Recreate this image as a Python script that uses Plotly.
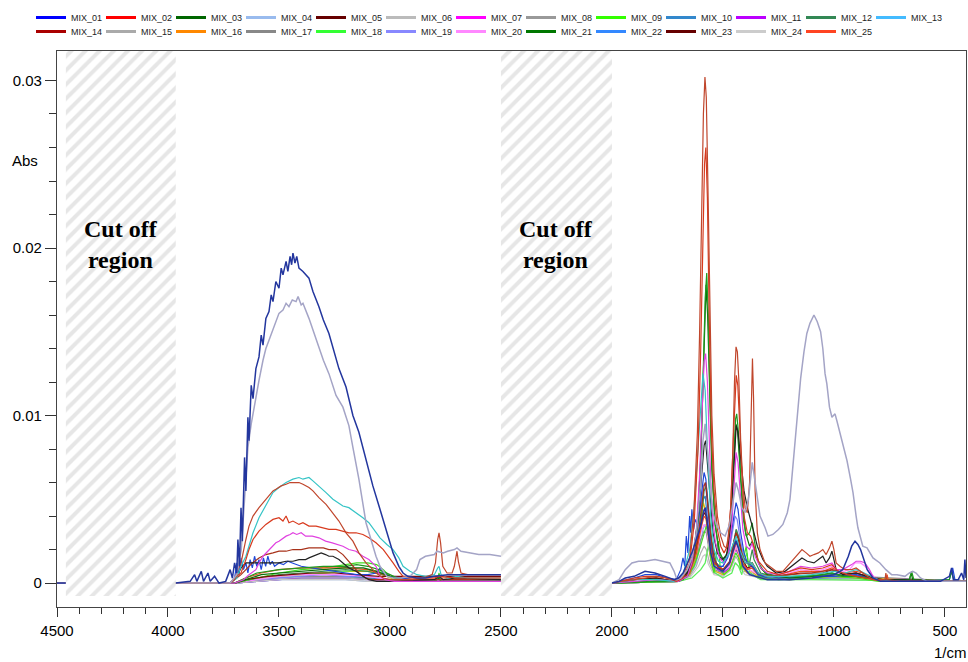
import plotly.graph_objects as go

# ---------------- data (wavenumber 1/cm, absorbance) ; None = break at cut-off region
SERIES_NAMES = [f"MIX_{i:02d}" for i in range(1, 26)]

MIX_01 = [(4500, 0), (4460, 0), None,
          (3965, 0), (3900, 0.0001), (3880, 0.0005), (3870, 0.0001), (3850, 0.0007), (3840, 0.0001),
          (3820, 0.0006), (3810, 0.0001), (3790, 0.0004), (3770, 0.0), (3740, 0.0001), (3720, 0.0008),
          (3710, 0.0003), (3700, 0.0012), (3690, 0.0006), (3685, 0.0026), (3678, 0.001), (3671, 0.0045),
          (3665, 0.0025), (3655, 0.0075), (3649, 0.0055), (3640, 0.0099), (3635, 0.0085), (3625, 0.0118),
          (3617, 0.011), (3604, 0.0128), (3590, 0.0135), (3580, 0.0148), (3572, 0.0142), (3559, 0.0158),
          (3545, 0.0162), (3535, 0.0172), (3527, 0.0168), (3514, 0.0180), (3500, 0.0176), (3490, 0.0188),
          (3482, 0.0184), (3468, 0.0192), (3460, 0.0186), (3450, 0.0195), (3443, 0.0190), (3437, 0.0197),
          (3428, 0.0191), (3420, 0.0195), (3410, 0.0188), (3392, 0.0186), (3365, 0.0182), (3347, 0.0174),
          (3320, 0.0165), (3300, 0.0157), (3275, 0.0149), (3257, 0.0141), (3230, 0.0128), (3198, 0.0117),
          (3167, 0.0100), (3140, 0.0090), (3108, 0.0073), (3077, 0.0058), (3045, 0.0044), (3014, 0.0030),
          (2986, 0.0018), (2960, 0.0010), (2941, 0.0006), (2920, 0.0004), (2880, 0.0003), (2840, 0.0003),
          (2800, 0.0004), (2740, 0.0005), (2650, 0.0005), (2550, 0.0005), (2500, 0.0005), None,
          (2000, 0), (1968, 0.0001), (1940, 0.0003), (1900, 0.0004), (1851, 0.0007), (1806, 0.0006),
          (1760, 0.0004), (1720, 0.0002), (1700, 0.0003), (1680, 0.0006), (1660, 0.0012), (1640, 0.0018),
          (1620, 0.0026), (1600, 0.0034), (1588, 0.0042), (1580, 0.0045), (1570, 0.0035), (1555, 0.0018),
          (1540, 0.0010), (1500, 0.0007), (1470, 0.0012), (1450, 0.0022), (1441, 0.0025), (1430, 0.0021),
          (1410, 0.0010), (1380, 0.0005), (1300, 0.0002), (1200, 0.0002), (1100, 0.0003), (1000, 0.0005),
          (960, 0.0008), (935, 0.0016), (920, 0.0022), (905, 0.0025), (892, 0.0023), (880, 0.0020),
          (865, 0.0014), (850, 0.0008), (824, 0.0003), (790, 0.0001), (700, 0.0001), (600, 0.0001),
          (520, 0.0001), (480, 0.0004), (470, 0.0009), (462, 0.0002), (440, 0.0002), (425, 0.0006),
          (415, 0.0002), (410, 0.0014), (405, 0.0003)]

MIX_02 = [(4500, 0), (4460, 0), None,
          (3965, 0), (3720, 0), (3700, 0.0003), (3671, 0.0006), (3649, 0.0014), (3635, 0.0020),
          (3617, 0.0026), (3590, 0.0031), (3559, 0.0035), (3527, 0.0038), (3500, 0.0039), (3482, 0.0037),
          (3468, 0.0040), (3455, 0.0036), (3437, 0.0037), (3410, 0.0035), (3392, 0.0036), (3365, 0.0034),
          (3333, 0.0034), (3300, 0.0033), (3275, 0.0032), (3243, 0.0032), (3212, 0.0031), (3185, 0.0030),
          (3153, 0.0030), (3122, 0.0029), (3095, 0.0027), (3063, 0.0024), (3030, 0.0020), (3000, 0.0015),
          (2986, 0.0012), (2960, 0.0007), (2941, 0.0004), (2900, 0.0003), (2800, 0.0003), (2779, 0.0004),
          (2700, 0.0003), (2500, 0.0003), None,
          (2000, 0), (1900, 0.0003), (1850, 0.0004), (1800, 0.0004), (1750, 0.0003), (1710, 0.0001),
          (1680, 0.0003), (1650, 0.0012), (1630, 0.0035), (1612, 0.0080), (1600, 0.0140), (1590, 0.0210),
          (1583, 0.0250), (1577, 0.0260), (1570, 0.0230), (1562, 0.0160), (1552, 0.0090), (1540, 0.0055),
          (1525, 0.0032), (1510, 0.0022), (1495, 0.0018), (1480, 0.0022), (1465, 0.0045), (1452, 0.0090),
          (1445, 0.0115), (1440, 0.0124), (1433, 0.0118), (1425, 0.0095), (1415, 0.0062), (1405, 0.0040),
          (1390, 0.0030), (1375, 0.0028), (1360, 0.0022), (1340, 0.0013), (1300, 0.0007), (1250, 0.0005),
          (1200, 0.0007), (1150, 0.0009), (1100, 0.0008), (1050, 0.0009), (1010, 0.0011), (980, 0.0007),
          (940, 0.0005), (900, 0.0004), (850, 0.0003), (780, 0.0001), (405, 0.0001)]

MIX_03 = [(4500, 0), (4460, 0), None,
          (3965, 0), (3700, 0), (3650, 0.0003), (3600, 0.0006), (3500, 0.0008), (3400, 0.0009),
          (3300, 0.0010), (3200, 0.0010), (3150, 0.0011), (3100, 0.0010), (3050, 0.0008), (3000, 0.0005),
          (2950, 0.0002), (2900, 0.0001), (2800, 0.0001), (2785, 0.0003), (2779, 0.0005), (2772, 0.0001),
          (2700, 0.0001), (2500, 0.0001), None,
          (2000, 0), (1800, 0.0001), (1700, 0.0001), (1660, 0.0004), (1630, 0.0015), (1610, 0.0040),
          (1598, 0.0080), (1588, 0.0130), (1580, 0.0170), (1573, 0.0185), (1566, 0.0160), (1558, 0.0110),
          (1548, 0.0065), (1535, 0.0035), (1520, 0.0020), (1500, 0.0014), (1480, 0.0018), (1465, 0.0035),
          (1452, 0.0075), (1443, 0.0098), (1438, 0.0101), (1430, 0.0090), (1420, 0.0062), (1408, 0.0038),
          (1395, 0.0028), (1380, 0.0030), (1368, 0.0036), (1358, 0.0025), (1340, 0.0012), (1310, 0.0006),
          (1250, 0.0004), (1150, 0.0004), (1050, 0.0005), (1009, 0.0006), (960, 0.0004), (900, 0.0004),
          (850, 0.0003), (700, 0.0001), (660, 0.0002), (650, 0.0007), (640, 0.0002), (600, 0.0001),
          (480, 0.0002), (470, 0.0007), (460, 0.0002), (405, 0.0001)]

MIX_04 = [(4500, 0), (4460, 0), None,
          (3965, 0), (3700, 0), (3600, 0.0001), (3500, 0.0002), (3400, 0.0002), (3300, 0.0002),
          (3200, 0.0002), (3100, 0.0001), (2500, 0.0001), None,
          (2000, 0), (1700, 0.0001), (1650, 0.0004), (1620, 0.0012), (1600, 0.0024), (1590, 0.0032),
          (1580, 0.0035), (1570, 0.0028), (1555, 0.0014), (1535, 0.0007), (1500, 0.0005), (1470, 0.0009),
          (1455, 0.0018), (1442, 0.0025), (1430, 0.0021), (1415, 0.0011), (1390, 0.0006), (1340, 0.0003),
          (1200, 0.0002), (1009, 0.0003), (900, 0.0003), (405, 0.0001)]

MIX_05 = [(4500, 0), (4460, 0), None,
          (3965, 0), (3720, 0), (3700, 0.0002), (3671, 0.0005), (3649, 0.0008), (3620, 0.0012),
          (3590, 0.0015), (3559, 0.0017), (3527, 0.0018), (3500, 0.0019), (3468, 0.0019), (3437, 0.0020),
          (3400, 0.0020), (3365, 0.0021), (3333, 0.0021), (3300, 0.0021), (3275, 0.0020), (3243, 0.0020),
          (3212, 0.0017), (3185, 0.0013), (3167, 0.0010), (3140, 0.0006), (3110, 0.0003), (3080, 0.0002),
          (3000, 0.0002), (2800, 0.0002), (2500, 0.0002), None,
          (2000, 0), (1900, 0.0002), (1800, 0.0003), (1720, 0.0001), (1660, 0.0005), (1630, 0.0015),
          (1610, 0.0030), (1595, 0.0045), (1585, 0.0058), (1578, 0.0060), (1570, 0.0050), (1555, 0.0028),
          (1540, 0.0015), (1520, 0.0009), (1500, 0.0008), (1470, 0.0013), (1455, 0.0022), (1441, 0.0030),
          (1430, 0.0027), (1415, 0.0018), (1400, 0.0012), (1368, 0.0012), (1340, 0.0006), (1300, 0.0004),
          (1200, 0.0005), (1100, 0.0006), (1009, 0.0008), (950, 0.0005), (900, 0.0006), (850, 0.0004),
          (780, 0.0001), (405, 0.0001)]

MIX_06 = [(4500, 0), (4460, 0), None,
          (3965, 0), (3720, 0), (3690, 0.0005), (3670, 0.0020), (3660, 0.0040), (3649, 0.0066),
          (3640, 0.0081), (3625, 0.0095), (3604, 0.0112), (3590, 0.0121), (3572, 0.0133), (3559, 0.0140),
          (3545, 0.0145), (3530, 0.0150), (3514, 0.0156), (3500, 0.0161), (3482, 0.0163), (3468, 0.0167),
          (3455, 0.0165), (3440, 0.0169), (3423, 0.0168), (3414, 0.0171), (3400, 0.0166), (3392, 0.0167),
          (3365, 0.0158), (3333, 0.0145), (3300, 0.0133), (3275, 0.0125), (3243, 0.0112), (3212, 0.0105),
          (3185, 0.0094), (3167, 0.0081), (3140, 0.0062), (3108, 0.0036), (3080, 0.0024), (3063, 0.0016),
          (3045, 0.0010), (3014, 0.0004), (2986, 0.0003), (2950, 0.0003), (2910, 0.0004), (2880, 0.0008),
          (2865, 0.0014), (2840, 0.0016), (2800, 0.0017), (2788, 0.0019), (2760, 0.0018), (2740, 0.0019),
          (2710, 0.0020), (2698, 0.0021), (2680, 0.0019), (2640, 0.0018), (2600, 0.0017), (2550, 0.0017),
          (2500, 0.0016), None,
          (2000, 0), (1968, 0.0002), (1940, 0.0008), (1910, 0.0012), (1880, 0.0013), (1851, 0.0013),
          (1806, 0.0014), (1770, 0.0013), (1739, 0.0012), (1720, 0.0007), (1707, 0.0002), (1690, 0.0003),
          (1660, 0.0008), (1640, 0.0015), (1620, 0.0030), (1600, 0.0060), (1590, 0.0085), (1580, 0.0095),
          (1570, 0.0080), (1560, 0.0060), (1545, 0.0042), (1530, 0.0035), (1510, 0.0030), (1490, 0.0028),
          (1470, 0.0035), (1455, 0.0048), (1441, 0.0060), (1430, 0.0055), (1415, 0.0045), (1400, 0.0042),
          (1385, 0.0050), (1368, 0.0072), (1360, 0.0065), (1347, 0.0052), (1333, 0.0040), (1310, 0.0033),
          (1297, 0.0028), (1275, 0.0029), (1250, 0.0032), (1230, 0.0035), (1210, 0.0042), (1198, 0.0050),
          (1185, 0.0069), (1167, 0.0099), (1150, 0.0122), (1135, 0.0138), (1122, 0.0149), (1108, 0.0155),
          (1090, 0.0160), (1075, 0.0156), (1060, 0.0150), (1050, 0.0140), (1040, 0.0125), (1032, 0.0119),
          (1020, 0.0105), (1009, 0.0099), (995, 0.0101), (985, 0.0096), (973, 0.0090), (955, 0.0080),
          (941, 0.0073), (925, 0.0062), (914, 0.0054), (900, 0.0040), (892, 0.0033), (870, 0.0022),
          (851, 0.0021), (824, 0.0015), (793, 0.0012), (766, 0.0008), (740, 0.0005), (716, 0.0005),
          (680, 0.0004), (660, 0.0006), (645, 0.0007), (630, 0.0006), (610, 0.0003), (580, 0.0001),
          (480, 0.0001), (405, 0.0001)]

MIX_07 = [(4500, 0), (4460, 0), None,
          (3965, 0), (3700, 0), (3660, 0.0002), (3635, 0.0005), (3604, 0.0008), (3590, 0.0012),
          (3572, 0.0016), (3545, 0.0020), (3527, 0.0022), (3514, 0.0024), (3500, 0.0025), (3482, 0.0027),
          (3468, 0.0028), (3450, 0.0029), (3437, 0.0030), (3420, 0.0029), (3400, 0.0030), (3380, 0.0028),
          (3350, 0.0028), (3320, 0.0027), (3290, 0.0025), (3260, 0.0024), (3230, 0.0023), (3212, 0.0022),
          (3185, 0.0020), (3153, 0.0019), (3122, 0.0016), (3095, 0.0014), (3063, 0.0010), (3045, 0.0004),
          (3020, 0.0002), (2980, 0.0001), (2500, 0.0001), None,
          (2000, 0), (1900, 0.0001), (1800, 0.0002), (1700, 0.0001), (1660, 0.0004), (1640, 0.0012),
          (1620, 0.0030), (1605, 0.0065), (1595, 0.0100), (1585, 0.0132), (1578, 0.0137), (1570, 0.0120),
          (1560, 0.0080), (1550, 0.0045), (1535, 0.0025), (1515, 0.0015), (1495, 0.0012), (1475, 0.0018),
          (1460, 0.0035), (1450, 0.0062), (1441, 0.0078), (1432, 0.0072), (1422, 0.0052), (1410, 0.0032),
          (1395, 0.0022), (1380, 0.0020), (1368, 0.0024), (1355, 0.0016), (1330, 0.0009), (1300, 0.0006),
          (1250, 0.0005), (1200, 0.0007), (1150, 0.0010), (1100, 0.0009), (1050, 0.0010), (1009, 0.0012),
          (990, 0.0008), (960, 0.0008), (920, 0.0011), (900, 0.0013), (880, 0.0013), (860, 0.0012),
          (840, 0.0008), (820, 0.0003), (780, 0.0001), (405, 0.0001)]

MIX_08 = [(4500, 0), (4460, 0), None,
          (3965, 0), (3700, 0), (3600, 0.0001), (3500, 0.0003), (3400, 0.0004), (3300, 0.0004),
          (3200, 0.0004), (3100, 0.0003), (3000, 0.0002), (2500, 0.0002), None,
          (2000, 0), (1700, 0.0001), (1650, 0.0005), (1620, 0.0014), (1600, 0.0026), (1585, 0.0031),
          (1575, 0.0030), (1560, 0.0018), (1540, 0.0008), (1500, 0.0006), (1470, 0.0012), (1450, 0.0026),
          (1440, 0.0032), (1430, 0.0027), (1415, 0.0014), (1390, 0.0008), (1368, 0.0009), (1340, 0.0004),
          (1200, 0.0003), (1009, 0.0004), (900, 0.0004), (405, 0.0001)]

MIX_09 = [(4500, 0), (4460, 0), None,
          (3965, 0), (3700, 0), (3600, 0.0003), (3500, 0.0006), (3400, 0.0008), (3300, 0.0009),
          (3200, 0.0011), (3150, 0.0012), (3100, 0.0012), (3060, 0.0011), (3030, 0.0008), (3000, 0.0004),
          (2960, 0.0002), (2900, 0.0001), (2785, 0.0002), (2779, 0.0006), (2772, 0.0001), (2500, 0.0001), None,
          (2000, 0), (1700, 0.0001), (1660, 0.0004), (1630, 0.0010), (1610, 0.0018), (1595, 0.0025),
          (1585, 0.0030), (1575, 0.0034), (1565, 0.0028), (1552, 0.0012), (1540, 0.0006), (1528, 0.0018),
          (1520, 0.0025), (1512, 0.0008), (1495, 0.0005), (1470, 0.0008), (1455, 0.0014), (1442, 0.0018),
          (1430, 0.0015), (1420, 0.0008), (1405, 0.0016), (1395, 0.0022), (1385, 0.0010), (1368, 0.0012),
          (1340, 0.0004), (1250, 0.0002), (1100, 0.0003), (1009, 0.0004), (900, 0.0003), (800, 0.0001),
          (405, 0.0001)]

MIX_10 = [(4500, 0), (4460, 0), None,
          (3965, 0), (3700, 0), (3600, 0.0001), (3500, 0.0002), (3400, 0.0003), (3300, 0.0003),
          (3200, 0.0003), (3100, 0.0003), (3000, 0.0002), (2500, 0.0002), None,
          (2000, 0), (1700, 0.0001), (1650, 0.0006), (1620, 0.0020), (1600, 0.0038), (1588, 0.0050),
          (1580, 0.0052), (1570, 0.0040), (1555, 0.0020), (1535, 0.0010), (1500, 0.0007), (1470, 0.0010),
          (1455, 0.0020), (1442, 0.0026), (1430, 0.0022), (1415, 0.0012), (1390, 0.0007), (1340, 0.0003),
          (1200, 0.0002), (1009, 0.0003), (900, 0.0003), (405, 0.0001)]

MIX_11 = [(4500, 0), (4460, 0), None,
          (3965, 0), (3700, 0), (3600, 0.0001), (3500, 0.0002), (3400, 0.0003), (3300, 0.0003),
          (3200, 0.0003), (3100, 0.0002), (3000, 0.0001), (2500, 0.0001), None,
          (2000, 0), (1700, 0.0001), (1650, 0.0005), (1620, 0.0016), (1600, 0.0032), (1588, 0.0043),
          (1580, 0.0045), (1570, 0.0036), (1555, 0.0018), (1535, 0.0009), (1500, 0.0006), (1470, 0.0009),
          (1455, 0.0016), (1442, 0.0020), (1430, 0.0017), (1415, 0.0010), (1390, 0.0006), (1340, 0.0003),
          (1200, 0.0002), (1009, 0.0004), (900, 0.0005), (860, 0.0003), (405, 0.0001)]

MIX_12 = [(4500, 0), (4460, 0), None,
          (3965, 0), (3700, 0), (3600, 0.0003), (3500, 0.0005), (3400, 0.0006), (3300, 0.0007),
          (3200, 0.0008), (3100, 0.0007), (3000, 0.0004), (2900, 0.0002), (2500, 0.0002), None,
          (2000, 0), (1700, 0.0001), (1650, 0.0006), (1620, 0.0018), (1600, 0.0035), (1585, 0.0055),
          (1575, 0.0058), (1565, 0.0045), (1550, 0.0025), (1530, 0.0012), (1500, 0.0008), (1470, 0.0012),
          (1450, 0.0025), (1440, 0.0032), (1430, 0.0028), (1410, 0.0015), (1380, 0.0012), (1368, 0.0020),
          (1360, 0.0014), (1330, 0.0006), (1250, 0.0003), (1100, 0.0004), (1000, 0.0005), (900, 0.0004),
          (800, 0.0002), (405, 0.0001)]

MIX_13 = [(4500, 0), (4460, 0), None,
          (3965, 0), (3720, 0), (3690, 0.0003), (3671, 0.0010), (3649, 0.0016), (3635, 0.0022),
          (3617, 0.0030), (3590, 0.0039), (3559, 0.0046), (3527, 0.0054), (3500, 0.0057), (3468, 0.0060),
          (3437, 0.0062), (3410, 0.0063), (3392, 0.0062), (3365, 0.0063), (3347, 0.0061), (3320, 0.0058),
          (3288, 0.0054), (3257, 0.0050), (3212, 0.0046), (3185, 0.0045), (3153, 0.0042), (3122, 0.0039),
          (3095, 0.0036), (3063, 0.0030), (3045, 0.0027), (3014, 0.0023), (2986, 0.0020), (2960, 0.0015),
          (2941, 0.0010), (2910, 0.0007), (2878, 0.0005), (2840, 0.0004), (2800, 0.0005), (2785, 0.0009),
          (2779, 0.0010), (2770, 0.0005), (2740, 0.0003), (2698, 0.0004), (2650, 0.0003), (2500, 0.0003), None,
          (2000, 0), (1900, 0.0002), (1800, 0.0002), (1720, 0.0001), (1680, 0.0005), (1650, 0.0020),
          (1630, 0.0045), (1615, 0.0075), (1600, 0.0105), (1590, 0.0125), (1580, 0.0115), (1570, 0.0080),
          (1555, 0.0040), (1540, 0.0020), (1520, 0.0013), (1500, 0.0012), (1470, 0.0018), (1450, 0.0025),
          (1440, 0.0028), (1425, 0.0020), (1400, 0.0012), (1370, 0.0012), (1340, 0.0006), (1300, 0.0004),
          (1200, 0.0004), (1100, 0.0005), (1050, 0.0006), (1000, 0.0007), (950, 0.0006), (900, 0.0008),
          (880, 0.0007), (850, 0.0005), (800, 0.0002), (700, 0.0001), (405, 0.0001)]

MIX_14 = [(4500, 0), (4460, 0), None,
          (3965, 0), (3720, 0), (3700, 0.0002), (3685, 0.0008), (3671, 0.0012), (3660, 0.0020),
          (3649, 0.0026), (3635, 0.0034), (3617, 0.0040), (3590, 0.0045), (3559, 0.0050), (3527, 0.0055),
          (3514, 0.0056), (3490, 0.0058), (3468, 0.0059), (3450, 0.0060), (3437, 0.0060), (3410, 0.0060),
          (3392, 0.0059), (3365, 0.0057), (3347, 0.0055), (3320, 0.0051), (3288, 0.0047), (3257, 0.0042),
          (3230, 0.0037), (3198, 0.0030), (3167, 0.0025), (3140, 0.0018), (3108, 0.0012), (3077, 0.0008),
          (3063, 0.0006), (3030, 0.0003), (3000, 0.0002), (2900, 0.0002), (2850, 0.0003), (2810, 0.0005),
          (2795, 0.0012), (2785, 0.0026), (2779, 0.0030), (2772, 0.0024), (2762, 0.0010), (2743, 0.0006),
          (2720, 0.0006), (2710, 0.0010), (2703, 0.0017), (2698, 0.0019), (2692, 0.0013), (2680, 0.0006),
          (2650, 0.0005), (2600, 0.0005), (2500, 0.0005), None,
          (2000, 0), (1960, 0.0001), (1900, 0.0002), (1851, 0.0003), (1800, 0.0004), (1760, 0.0003),
          (1720, 0.0002), (1680, 0.0004), (1650, 0.0015), (1630, 0.0045), (1615, 0.0090), (1605, 0.0150),
          (1595, 0.0230), (1588, 0.0280), (1581, 0.0302), (1575, 0.0290), (1568, 0.0240), (1560, 0.0170),
          (1550, 0.0100), (1540, 0.0065), (1525, 0.0040), (1510, 0.0028), (1495, 0.0022), (1485, 0.0021),
          (1475, 0.0028), (1465, 0.0045), (1455, 0.0080), (1448, 0.0120), (1441, 0.0141), (1435, 0.0138),
          (1428, 0.0120), (1420, 0.0085), (1410, 0.0058), (1400, 0.0045), (1390, 0.0042), (1380, 0.0060),
          (1372, 0.0110), (1367, 0.0134), (1362, 0.0110), (1355, 0.0055), (1345, 0.0030), (1333, 0.0020),
          (1310, 0.0012), (1290, 0.0010), (1260, 0.0007), (1230, 0.0007), (1198, 0.0012), (1170, 0.0016),
          (1144, 0.0020), (1125, 0.0018), (1108, 0.0016), (1090, 0.0017), (1070, 0.0018), (1050, 0.0020),
          (1035, 0.0017), (1020, 0.0021), (1009, 0.0025), (1000, 0.0020), (990, 0.0012), (973, 0.0010),
          (950, 0.0008), (920, 0.0008), (900, 0.0009), (880, 0.0007), (850, 0.0004), (820, 0.0002),
          (770, 0.0002), (766, 0.0006), (762, 0.0002), (700, 0.0001), (405, 0.0001)]

MIX_15 = [(4500, 0), (4460, 0), None,
          (3965, 0), (3700, 0), (3600, 0.0002), (3500, 0.0003), (3400, 0.0003), (3300, 0.0003),
          (3200, 0.0003), (3100, 0.0002), (2500, 0.0001), None,
          (2000, 0), (1700, 0.0001), (1650, 0.0004), (1620, 0.0010), (1600, 0.0018), (1585, 0.0022),
          (1575, 0.0020), (1560, 0.0012), (1540, 0.0006), (1500, 0.0004), (1460, 0.0010), (1442, 0.0016),
          (1430, 0.0013), (1410, 0.0007), (1368, 0.0006), (1300, 0.0003), (1100, 0.0003), (900, 0.0003),
          (405, 0.0001)]

MIX_16 = [(4500, 0), (4460, 0), None,
          (3965, 0), (3700, 0), (3600, 0.0002), (3500, 0.0004), (3400, 0.0005), (3300, 0.0006),
          (3200, 0.0007), (3100, 0.0007), (3050, 0.0006), (3000, 0.0003), (2950, 0.0001), (2500, 0.0001), None,
          (2000, 0), (1700, 0.0001), (1650, 0.0005), (1620, 0.0015), (1605, 0.0030), (1595, 0.0042),
          (1588, 0.0048), (1580, 0.0044), (1570, 0.0030), (1555, 0.0014), (1535, 0.0007), (1500, 0.0005),
          (1470, 0.0008), (1455, 0.0015), (1442, 0.0022), (1432, 0.0019), (1418, 0.0010), (1390, 0.0006),
          (1368, 0.0007), (1340, 0.0003), (1200, 0.0002), (1009, 0.0004), (900, 0.0003), (405, 0.0001)]

MIX_17 = [(4500, 0), (4460, 0), None,
          (3965, 0), (3720, 0), (3690, 0.0004), (3671, 0.0009), (3649, 0.0012), (3620, 0.0012),
          (3590, 0.0012), (3559, 0.0012), (3527, 0.0012), (3500, 0.0012), (3468, 0.0013), (3437, 0.0013),
          (3410, 0.0014), (3380, 0.0014), (3365, 0.0015), (3347, 0.0016), (3333, 0.0017), (3310, 0.0018),
          (3290, 0.0017), (3275, 0.0016), (3257, 0.0016), (3230, 0.0014), (3212, 0.0012), (3185, 0.0009),
          (3153, 0.0007), (3122, 0.0004), (3095, 0.0002), (3060, 0.0001), (3000, 0.0001), (2800, 0.0002),
          (2779, 0.0004), (2760, 0.0002), (2700, 0.0003), (2500, 0.0002), None,
          (2000, 0), (1900, 0.0002), (1800, 0.0003), (1720, 0.0001), (1660, 0.0006), (1630, 0.0020),
          (1610, 0.0042), (1595, 0.0068), (1585, 0.0082), (1578, 0.0085), (1570, 0.0072), (1558, 0.0048),
          (1545, 0.0030), (1525, 0.0018), (1505, 0.0014), (1485, 0.0016), (1468, 0.0030), (1455, 0.0060),
          (1445, 0.0088), (1440, 0.0094), (1432, 0.0090), (1420, 0.0075), (1405, 0.0055), (1390, 0.0045),
          (1375, 0.0038), (1360, 0.0030), (1345, 0.0022), (1320, 0.0014), (1300, 0.0010), (1260, 0.0006),
          (1220, 0.0007), (1180, 0.0011), (1144, 0.0015), (1120, 0.0013), (1090, 0.0012), (1050, 0.0016),
          (1035, 0.0012), (1020, 0.0015), (1009, 0.0019), (1000, 0.0014), (990, 0.0008), (960, 0.0005),
          (900, 0.0006), (850, 0.0004), (800, 0.0002), (405, 0.0001)]

MIX_18 = [(4500, 0), (4460, 0), None,
          (3965, 0), (3700, 0), (3600, 0.0002), (3500, 0.0004), (3400, 0.0005), (3300, 0.0006),
          (3200, 0.0007), (3100, 0.0008), (3050, 0.0007), (3000, 0.0004), (2950, 0.0002), (2500, 0.0001), None,
          (2000, 0), (1700, 0.0001), (1640, 0.0003), (1600, 0.0008), (1580, 0.0012), (1565, 0.0024),
          (1558, 0.0028), (1550, 0.0018), (1535, 0.0006), (1500, 0.0003), (1460, 0.0006), (1445, 0.0012),
          (1430, 0.0010), (1415, 0.0005), (1400, 0.0015), (1392, 0.0018), (1380, 0.0006), (1330, 0.0002),
          (1100, 0.0002), (405, 0.0001)]

MIX_19 = [(4500, 0), (4460, 0), None,
          (3965, 0), (3700, 0), (3600, 0.0002), (3500, 0.0003), (3400, 0.0004), (3300, 0.0005),
          (3200, 0.0004), (3100, 0.0004), (3000, 0.0002), (2500, 0.0001), None,
          (2000, 0), (1700, 0.0001), (1650, 0.0008), (1620, 0.0025), (1600, 0.0045), (1588, 0.0058),
          (1580, 0.0060), (1570, 0.0048), (1558, 0.0028), (1540, 0.0014), (1520, 0.0010), (1500, 0.0010),
          (1475, 0.0016), (1458, 0.0030), (1445, 0.0040), (1436, 0.0038), (1422, 0.0026), (1405, 0.0015),
          (1380, 0.0010), (1368, 0.0012), (1340, 0.0005), (1200, 0.0003), (1100, 0.0004), (1009, 0.0005),
          (900, 0.0006), (850, 0.0004), (780, 0.0001), (405, 0.0001)]

MIX_20 = [(4500, 0), (4460, 0), None,
          (3965, 0), (3700, 0), (3600, 0.0002), (3500, 0.0004), (3400, 0.0005), (3300, 0.0005),
          (3200, 0.0005), (3100, 0.0004), (3000, 0.0002), (2500, 0.0001), None,
          (2000, 0), (1700, 0.0001), (1650, 0.0006), (1620, 0.0018), (1600, 0.0030), (1585, 0.0035),
          (1575, 0.0033), (1560, 0.0020), (1540, 0.0010), (1500, 0.0007), (1470, 0.0010), (1450, 0.0018),
          (1440, 0.0022), (1428, 0.0018), (1410, 0.0010), (1380, 0.0008), (1340, 0.0005), (1250, 0.0004),
          (1150, 0.0008), (1100, 0.0007), (1050, 0.0008), (1009, 0.0010), (980, 0.0006), (930, 0.0008),
          (905, 0.0012), (880, 0.0012), (860, 0.0010), (840, 0.0006), (800, 0.0002), (405, 0.0001)]

MIX_21 = [(4500, 0), (4460, 0), None,
          (3965, 0), (3700, 0), (3650, 0.0002), (3580, 0.0005), (3500, 0.0006), (3400, 0.0007),
          (3300, 0.0008), (3200, 0.0009), (3120, 0.0009), (3060, 0.0007), (3000, 0.0004), (2950, 0.0002),
          (2800, 0.0001), (2779, 0.0003), (2770, 0.0001), (2500, 0.0001), None,
          (2000, 0), (1800, 0.0001), (1680, 0.0002), (1640, 0.0012), (1615, 0.0035), (1600, 0.0075),
          (1590, 0.0120), (1582, 0.0165), (1576, 0.0178), (1569, 0.0160), (1560, 0.0115), (1550, 0.0068),
          (1535, 0.0035), (1515, 0.0018), (1495, 0.0013), (1475, 0.0020), (1460, 0.0045), (1450, 0.0078),
          (1442, 0.0095), (1435, 0.0092), (1425, 0.0075), (1412, 0.0048), (1398, 0.0030), (1380, 0.0022),
          (1368, 0.0025), (1355, 0.0018), (1330, 0.0009), (1300, 0.0005), (1200, 0.0003), (1100, 0.0004),
          (1009, 0.0006), (950, 0.0004), (900, 0.0004), (800, 0.0002), (660, 0.0002), (652, 0.0006),
          (645, 0.0002), (405, 0.0001)]

MIX_22 = [(4500, 0), (4460, 0), None,
          (3965, 0), (3720, 0), (3700, 0.0003), (3690, 0.0012), (3680, 0.0005), (3671, 0.0015),
          (3660, 0.0008), (3649, 0.0012), (3640, 0.0006), (3630, 0.0014), (3620, 0.0009), (3610, 0.0016),
          (3600, 0.0010), (3590, 0.0014), (3580, 0.0008), (3570, 0.0015), (3560, 0.0010), (3550, 0.0016),
          (3540, 0.0011), (3530, 0.0013), (3520, 0.0010), (3500, 0.0012), (3480, 0.0011), (3460, 0.0013),
          (3440, 0.0012), (3420, 0.0011), (3400, 0.0010), (3350, 0.0009), (3300, 0.0008), (3250, 0.0007),
          (3200, 0.0006), (3150, 0.0005), (3100, 0.0005), (3060, 0.0006), (3045, 0.0009), (3030, 0.0006),
          (3000, 0.0004), (2950, 0.0003), (2900, 0.0002), (2500, 0.0002), None,
          (2000, 0), (1900, 0.0003), (1851, 0.0005), (1800, 0.0005), (1750, 0.0003), (1710, 0.0002),
          (1690, 0.0008), (1680, 0.0015), (1672, 0.0010), (1665, 0.0028), (1658, 0.0018), (1650, 0.0040),
          (1645, 0.0030), (1640, 0.0044), (1632, 0.0032), (1625, 0.0038), (1615, 0.0035), (1605, 0.0042),
          (1595, 0.0055), (1585, 0.0066), (1577, 0.0062), (1568, 0.0045), (1555, 0.0025), (1540, 0.0014),
          (1520, 0.0010), (1500, 0.0010), (1480, 0.0015), (1462, 0.0030), (1450, 0.0042), (1441, 0.0048),
          (1432, 0.0044), (1420, 0.0030), (1405, 0.0018), (1390, 0.0012), (1368, 0.0010), (1340, 0.0005),
          (1300, 0.0003), (1200, 0.0003), (1100, 0.0004), (1000, 0.0004), (900, 0.0005), (800, 0.0002),
          (600, 0.0001), (480, 0.0002), (465, 0.0009), (455, 0.0002), (405, 0.0001)]

MIX_23 = [(4500, 0), (4460, 0), None,
          (3965, 0), (3700, 0), (3650, 0.0002), (3550, 0.0004), (3450, 0.0005), (3350, 0.0006),
          (3250, 0.0006), (3150, 0.0005), (3050, 0.0004), (2900, 0.0004), (2700, 0.0004), (2500, 0.0004), None,
          (2000, 0), (1900, 0.0002), (1800, 0.0003), (1720, 0.0001), (1650, 0.0007), (1620, 0.0020),
          (1600, 0.0035), (1585, 0.0042), (1575, 0.0040), (1560, 0.0025), (1540, 0.0012), (1500, 0.0008),
          (1470, 0.0012), (1452, 0.0024), (1441, 0.0030), (1430, 0.0026), (1412, 0.0014), (1390, 0.0009),
          (1368, 0.0010), (1340, 0.0005), (1250, 0.0004), (1150, 0.0006), (1050, 0.0006), (1009, 0.0008),
          (950, 0.0005), (900, 0.0006), (850, 0.0004), (780, 0.0002), (405, 0.0001)]

MIX_24 = [(4500, 0), (4460, 0), None,
          (3965, 0), (3700, 0), (3600, 0.0001), (3500, 0.0002), (3400, 0.0002), (3300, 0.0002),
          (3200, 0.0002), (3100, 0.0001), (2500, 0.0001), None,
          (2000, 0), (1700, 0.0001), (1650, 0.0003), (1610, 0.0010), (1590, 0.0016), (1580, 0.0017),
          (1565, 0.0011), (1540, 0.0005), (1500, 0.0004), (1460, 0.0008), (1442, 0.0012), (1425, 0.0009),
          (1400, 0.0005), (1300, 0.0002), (1000, 0.0002), (405, 0.0001)]

MIX_25 = [(4500, 0), (4460, 0), None,
          (3965, 0), (3700, 0), (3650, 0.0003), (3580, 0.0006), (3500, 0.0008), (3400, 0.0009),
          (3300, 0.0009), (3200, 0.0009), (3100, 0.0008), (3050, 0.0006), (3000, 0.0004), (2950, 0.0003),
          (2800, 0.0003), (2500, 0.0003), None,
          (2000, 0), (1900, 0.0002), (1800, 0.0003), (1720, 0.0001), (1650, 0.0006), (1620, 0.0018),
          (1600, 0.0032), (1585, 0.0040), (1575, 0.0038), (1560, 0.0024), (1540, 0.0012), (1500, 0.0008),
          (1470, 0.0012), (1452, 0.0020), (1441, 0.0024), (1430, 0.0021), (1412, 0.0012), (1390, 0.0008),
          (1368, 0.0009), (1340, 0.0005), (1250, 0.0004), (1150, 0.0007), (1050, 0.0007), (1009, 0.0009),
          (960, 0.0006), (900, 0.0007), (870, 0.0006), (800, 0.0002), (765, 0.0002), (760, 0.0005),
          (755, 0.0001), (405, 0.0001)]

SERIES = [MIX_01, MIX_02, MIX_03, MIX_04, MIX_05, MIX_06, MIX_07, MIX_08, MIX_09, MIX_10,
          MIX_11, MIX_12, MIX_13, MIX_14, MIX_15, MIX_16, MIX_17, MIX_18, MIX_19, MIX_20,
          MIX_21, MIX_22, MIX_23, MIX_24, MIX_25]

# colours of the drawn spectra
LINE_COLORS = ["#23369e", "#d83a1e", "#1e9a1e", "#8fb4ee", "#a8321a", "#a4a4c6", "#e040e0",
               "#8c8c8c", "#44dd22", "#2a7fc4", "#a424e0", "#3a8c4e", "#35c4c6", "#c0462c",
               "#b0b0b0", "#e6b800", "#222222", "#5aee5a", "#8080f8", "#ff88ff", "#0c6e0c",
               "#2048d8", "#7c0a0a", "#c8c8c8", "#f04a22"]
# colours shown in the legend
LEGEND_COLORS = ["#0000ff", "#ff0000", "#006600", "#99bbee", "#660000", "#bbbbbb", "#ff00ff",
                 "#999999", "#33ff00", "#3388cc", "#bb00ff", "#338855", "#44bbff", "#aa0000",
                 "#aaaaaa", "#ff8800", "#888888", "#33ff33", "#8888ff", "#ff88ff", "#007700",
                 "#3388ff", "#660000", "#cccccc", "#ff4422"]

DRAW_ORDER = [3, 7, 9, 10, 14, 23, 15, 17, 18, 19, 11, 8, 22, 24, 21, 20, 2, 4, 16, 6, 12, 1, 13, 5, 0]

CUTOFF_REGIONS = [(4460, 3965), (2500, 2000)]
CUTOFF_LABEL = "Cut off<br>region"
X_TICKS = [4500, 4000, 3500, 3000, 2500, 2000, 1500, 1000, 500]
Y_TICKS = [0, 0.01, 0.02, 0.03]
Y_TICK_TEXT = ["0", "0.01", "0.02", "0.03"]
X_RANGE = [4500, 405]
Y_RANGE = [-0.00143, 0.03176]
HATCH_Y = [-0.00078, 0.03176]

SANS = "Liberation Sans, Arial, sans-serif"

FIG_W, FIG_H = 968, 662
M_L, M_R, M_T, M_B = 57, 2, 51, 55
PLOT_W = FIG_W - M_L - M_R
PLOT_H = FIG_H - M_T - M_B
ROW_SPLIT = 13  # legend entries in the first row

fig = go.Figure()


def split_xy(points):
    xs, ys = [], []
    for p in points:
        if p is None:
            xs.append(None)
            ys.append(None)
        else:
            xs.append(p[0])
            ys.append(p[1])
    return xs, ys


for idx in DRAW_ORDER:
    xs, ys = split_xy(SERIES[idx])
    big = idx in (0, 5)
    fig.add_trace(go.Scatter(x=xs, y=ys, mode="lines", name=SERIES_NAMES[idx],
                             line=dict(color=LINE_COLORS[idx], width=1.5 if big else 1.2),
                             connectgaps=False, showlegend=False, legendgroup=SERIES_NAMES[idx],
                             hoverinfo="x+y+name"))

# hatched cut-off regions (drawn above the spectra)
for (x0, x1) in CUTOFF_REGIONS:
    fig.add_trace(go.Scatter(x=[x0, x1, x1, x0, x0], y=[HATCH_Y[0], HATCH_Y[0], HATCH_Y[1], HATCH_Y[1], HATCH_Y[0]],
                             mode="lines", fill="toself", line=dict(width=0, color="rgba(0,0,0,0)"),
                             fillcolor="white",
                             fillpattern=dict(shape="/", fgcolor="#cdcdcd", bgcolor="white", size=10, solidity=0.4),
                             showlegend=False, hoverinfo="skip"))
    fig.add_annotation(x=(x0 + x1) / 2, y=0.0202, xref="x", yref="y", text="<b>" + CUTOFF_LABEL + "</b>",
                       showarrow=False, font=dict(family="Liberation Serif, Times New Roman, serif", size=24, color="black"),
                       align="center")

# legend entries (two rows)
for i, name in enumerate(SERIES_NAMES):
    last_in_row = i in (ROW_SPLIT - 1, len(SERIES_NAMES) - 1)
    fig.add_trace(go.Scatter(x=[None], y=[None], mode="lines", name=name,
                             line=dict(color=LEGEND_COLORS[i], width=3),
                             legendwidth=40 if last_in_row else None,
                             legend="legend" if i < ROW_SPLIT else "legend2", legendgroup=name))

legend_common = dict(orientation="h", xref="paper", yref="paper", xanchor="left", yanchor="top",
                     bgcolor="rgba(0,0,0,0)", borderwidth=0, font=dict(family=SANS, size=9, color="#222"),
                     entrywidthmode="pixels", entrywidth=25, itemwidth=30, itemclick=False, itemdoubleclick=False)
LEG_X = (31 - M_L) / PLOT_W

fig.update_layout(
    width=FIG_W, height=FIG_H,
    margin=dict(l=M_L, r=M_R, t=M_T, b=M_B, autoexpand=False),
    paper_bgcolor="white", plot_bgcolor="white",
    legend=dict(x=LEG_X, y=1 + (M_T - 3) / PLOT_H, **legend_common),
    legend2=dict(x=LEG_X, y=1 + (M_T - 17) / PLOT_H, **legend_common),
    xaxis=dict(range=X_RANGE, tickvals=X_TICKS, ticks="outside", ticklen=9, tickwidth=1, tickcolor="#333",
               showline=True, mirror=True, linecolor="#444", linewidth=1.2, showgrid=False, zeroline=False,
               tickfont=dict(family=SANS, size=15, color="black"), ticklabelstandoff=1,
               minor=dict(dtick=100, ticks="outside", ticklen=6, tickcolor="#333", showgrid=False)),
    yaxis=dict(range=Y_RANGE, tickvals=Y_TICKS, ticktext=Y_TICK_TEXT, ticks="outside", ticklen=11, tickwidth=1,
               tickcolor="#333", showline=True, mirror=True, linecolor="#444", linewidth=1.2, showgrid=False,
               zeroline=False, tickfont=dict(family=SANS, size=15, color="black"), ticklabelstandoff=0,
               minor=dict(tickvals=[v / 1000 for v in range(2, 32, 2) if v % 10], ticks="outside", ticklen=7,
                          tickcolor="#333", showgrid=False)),
    showlegend=True,
)

fig.add_annotation(text="Abs", xref="paper", yref="y", x=(25 - M_L) / PLOT_W, y=0.02525, showarrow=False,
                   font=dict(family=SANS, size=15, color="black"), xanchor="center", yanchor="middle")
fig.add_annotation(text="1/cm", xref="paper", yref="paper", x=(950 - M_L) / PLOT_W, y=-45 / PLOT_H, showarrow=False,
                   font=dict(family=SANS, size=15, color="black"), xanchor="center", yanchor="middle")

# remove the default 8 px page margin so the 968x662 figure fills the window exactly
fig.write_html("out.html", config={"displayModeBar": False},
               post_script="document.body.style.margin='0px';document.body.style.overflow='hidden';")
